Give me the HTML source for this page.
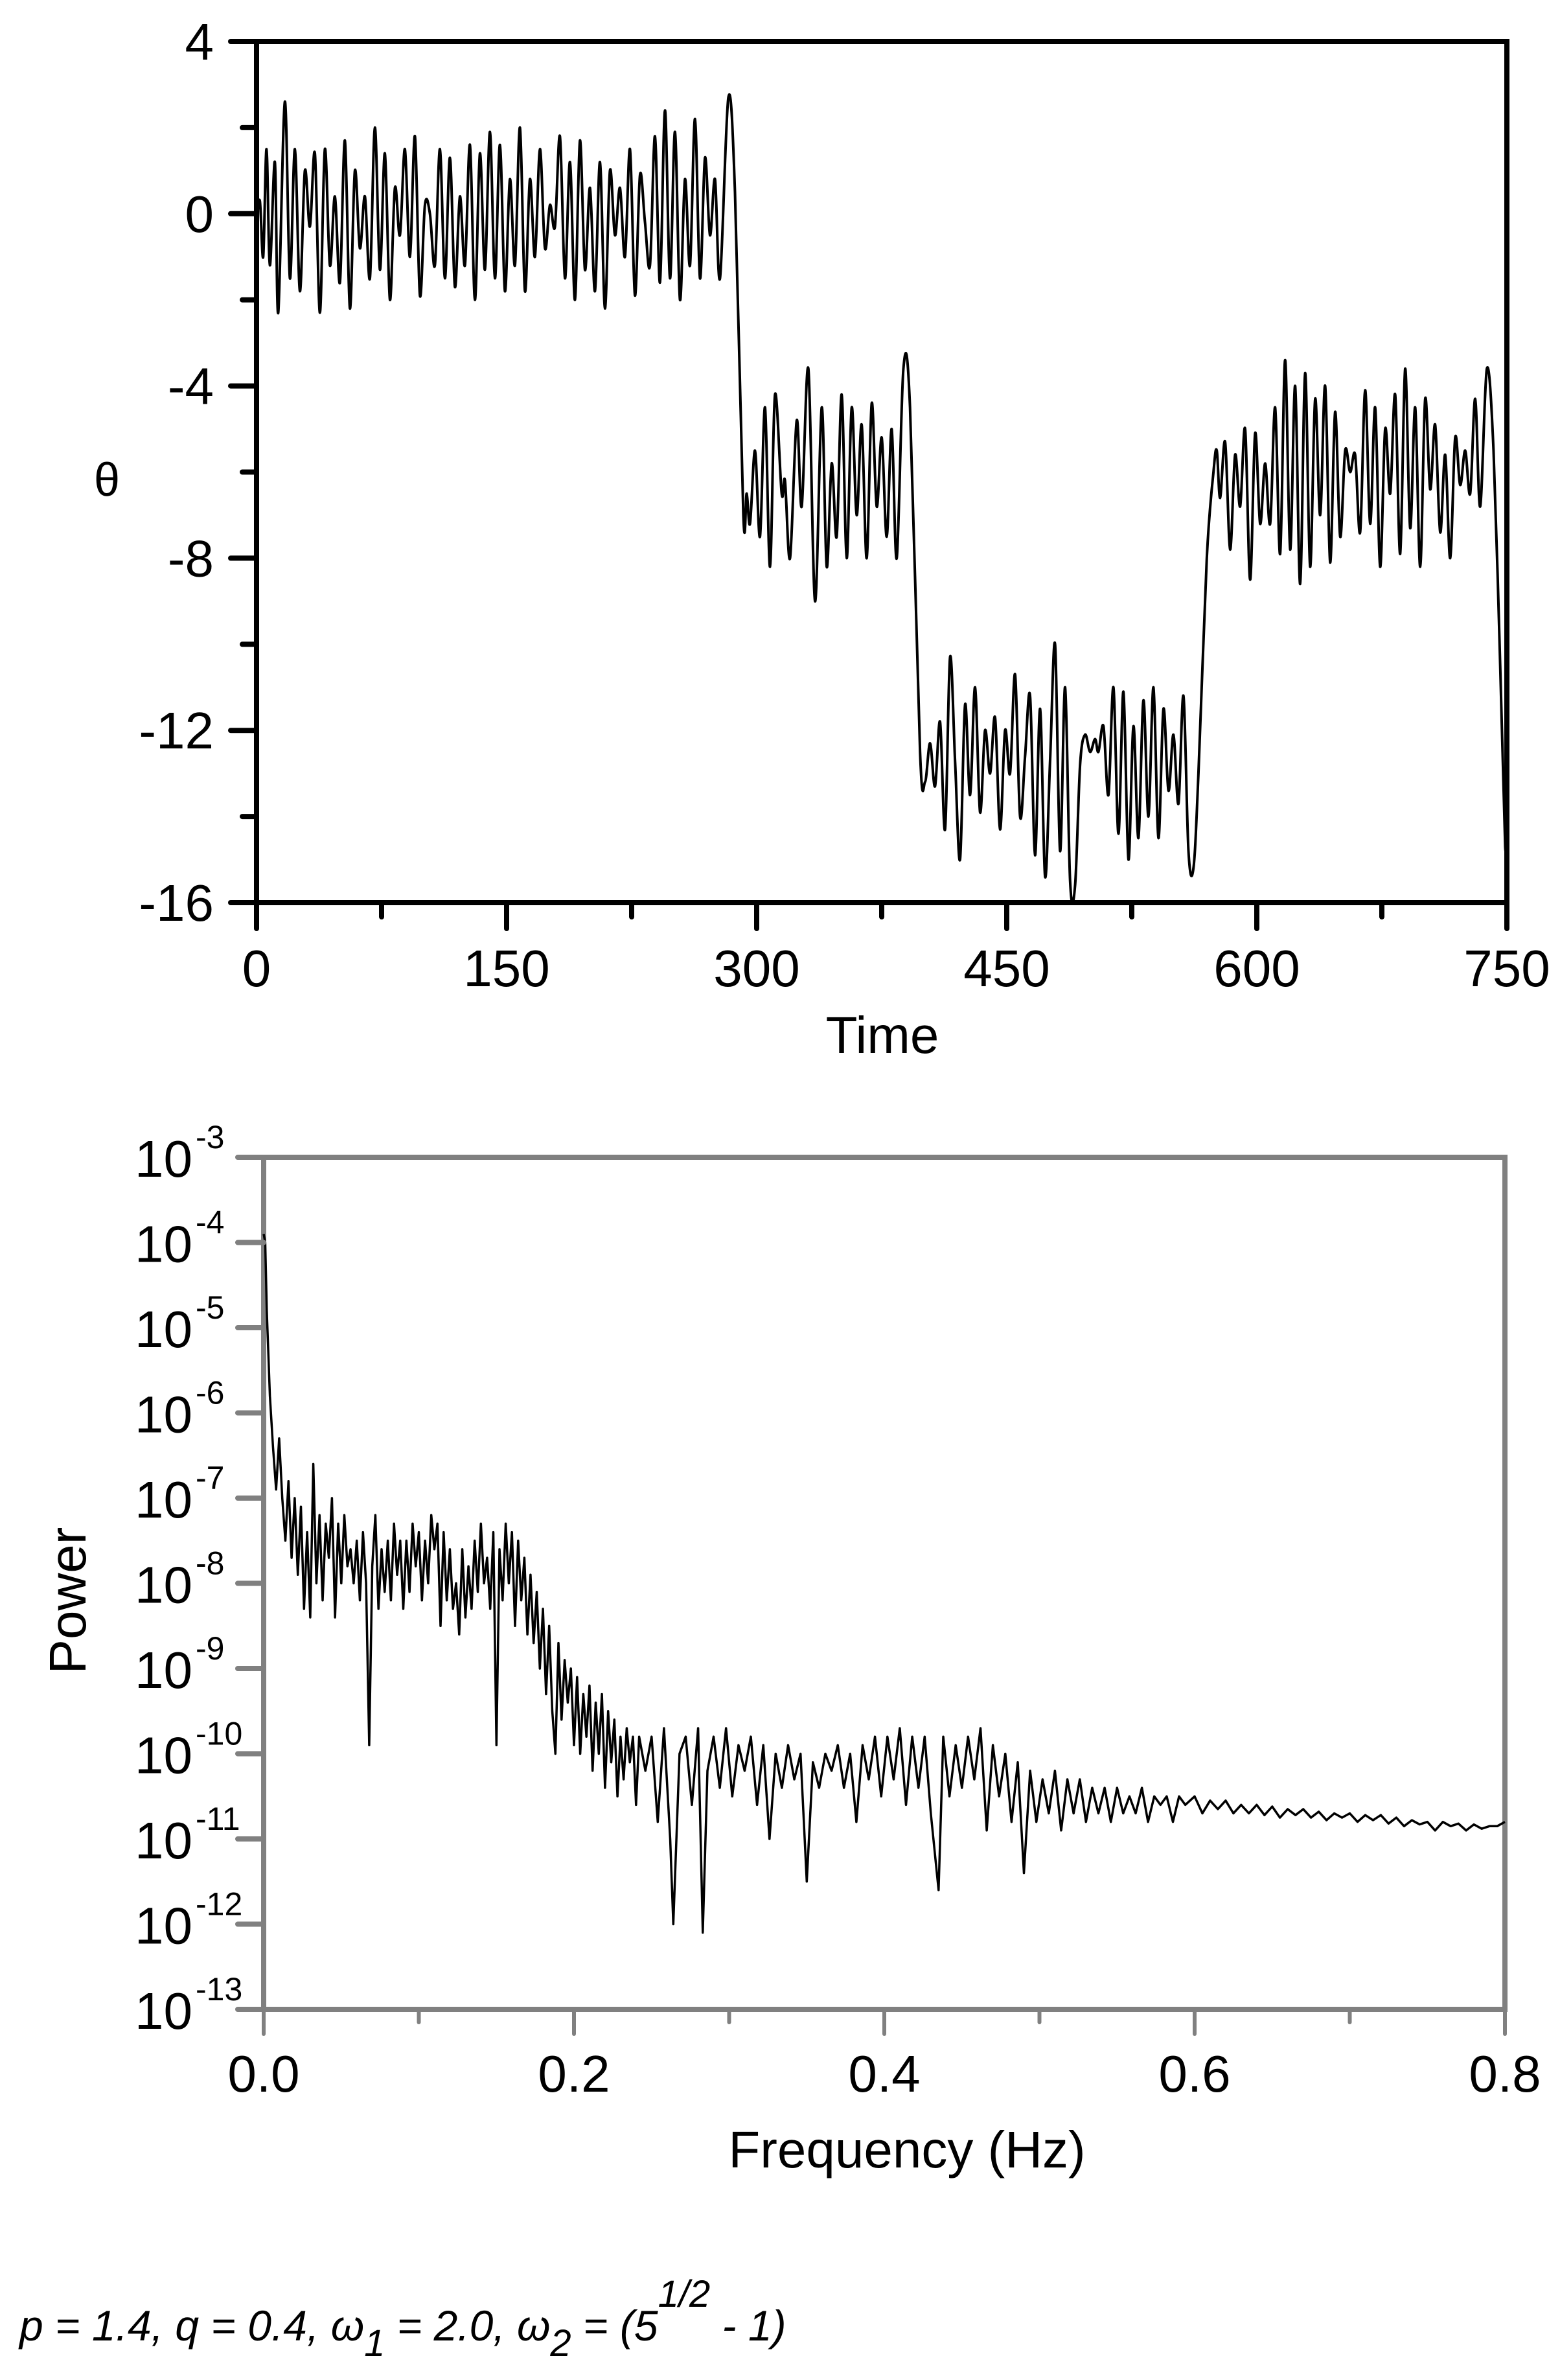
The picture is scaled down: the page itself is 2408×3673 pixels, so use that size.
<!DOCTYPE html>
<html><head><meta charset="utf-8">
<style>
html,body{margin:0;padding:0;background:#fff;}
svg{display:block;}
text{font-family:"Liberation Sans",sans-serif;fill:#000;}
</style></head>
<body>
<svg id="fig" width="2408" height="3673" viewBox="0 0 2408 3673" xmlns="http://www.w3.org/2000/svg">
<rect width="2408" height="3673" fill="#fff"/>
<g id="top"></g>
<g id="bot"></g>
<text x="30" y="3612" font-size="66" font-style="italic">p = 1.4, q = 0.4, ω<tspan dy="24" font-size="58">1</tspan><tspan dy="-24"> = 2.0, ω</tspan><tspan dy="24" font-size="58">2</tspan><tspan dy="-24"> = (5</tspan><tspan dy="-52" font-size="58">1/2</tspan><tspan dy="52"> - 1)</tspan></text>
</svg>
<script>
// ---- top chart data (time, theta) ----
const thetaTime = [0,2,4,6,8,11,13,17,20,23,26,29,32,35,38,41,44,47,50,53,56,59,62,65,68,71,74,77,80,83,86,89,92,95,98,101,104,107,110,113,116,119,122,125,128,131,134,137,140,143,146,149,152,155,158,161,164,167,170,173,176,179,182,185,188,191,194,197,200,203,206,209,212,215,218,221,224,227,230,233,236,239,242,245,248,251,254,257,260,263,266,269,272,275,278,283,287,
292,294,296,299,302,305,308,311,315,317,320,324,327,331,335,339,342,345,348,351,354,357,360,363,366,369,372,375,378,381,384,388,392,398,
401,404,407,410,413,416,419,422,425,428,431,434,437,440,443,446,449,452,455,458,461,464,467,470,473,476,479,482,485,488,491,494,497,500,503,505,508,511,514,517,520,523,526,529,532,535,538,541,544,547,550,553,556,559,562,565,570,
574,576,578,581,584,587,590,593,596,599,602,605,608,611,614,617,620,623,626,629,632,635,638,641,644,647,650,653,656,659,662,665,668,671,674,677,680,683,686,689,692,695,698,701,704,707,710,713,716,719,722,725,728,731,734,738,742,746,749,750];
const thetaValues = [-0.2,0.3,-1,1.5,-1.2,1.2,-2.3,2.6,-1.5,1.5,-1.8,1.0,-0.3,1.4,-2.3,1.5,-1.2,0.4,-1.6,1.7,-2.2,1.0,-0.8,0.4,-1.5,2.0,-1.3,1.4,-2.0,0.6,-0.5,1.5,-1.0,1.8,-1.9,0.2,0.0,-1.2,1.5,-1.5,1.3,-1.7,0.4,-1.2,1.6,-2.0,1.4,-1.3,1.9,-1.5,1.6,-1.8,0.8,-1.2,2.0,-1.8,0.8,-1.0,1.5,-0.8,0.2,-0.3,1.8,-1.5,1.2,-2.0,1.7,-1.3,0.6,-1.8,1.2,-2.2,1.0,-0.5,0.6,-1.0,1.5,-1.9,0.9,-0.2,-1.2,1.8,-1.6,2.4,-1.5,1.9,-2.0,0.8,-1.2,2.2,-1.5,1.3,-0.5,0.8,-1.5,2.7,0.5,
-7,-6.5,-7.2,-5.5,-7.5,-4.5,-8.2,-4.2,-6.5,-6.2,-8.0,-4.8,-6.8,-3.6,-9.0,-4.5,-8.2,-5.8,-7.5,-4.2,-8.0,-4.5,-7.0,-4.9,-8.0,-4.4,-6.8,-5.2,-7.5,-5.0,-8.0,-3.6,-4.5,-12.5,
-13.2,-12.3,-13.3,-11.8,-14.3,-10.3,-12.7,-15.0,-11.4,-13.5,-11.0,-13.9,-12.0,-13.0,-11.7,-14.3,-12.0,-13.0,-10.7,-14.0,-12.6,-11.2,-14.9,-11.5,-15.4,-12.7,-10.0,-14.8,-11.0,-15.5,-15.6,-12.8,-12.1,-12.5,-12.2,-12.5,-11.9,-13.5,-11.0,-14.4,-11.1,-15.0,-11.9,-14.5,-11.3,-14.0,-11.0,-14.5,-11.5,-13.4,-12.1,-13.7,-11.2,-14.8,-15.2,-13.0,-8.0,
-6.0,-5.5,-6.6,-5.3,-7.8,-5.6,-6.8,-5.0,-8.5,-5.1,-7.2,-5.8,-7.2,-4.5,-7.9,-3.4,-7.8,-4.0,-8.6,-3.7,-8.2,-4.3,-7.0,-4.0,-8.1,-4.6,-7.5,-5.5,-6.0,-5.6,-7.4,-4.1,-7.2,-4.5,-8.2,-5.0,-6.5,-4.2,-7.9,-3.6,-7.3,-4.5,-8.2,-4.3,-6.4,-4.9,-7.4,-5.6,-8.0,-5.2,-6.3,-5.5,-6.5,-4.3,-6.8,-3.6,-5.5,-10.5,-14.7,-13.5];
const timeTicks = [0,150,300,450,600,750];
const thetaTicks = [4,0,-4,-8,-12,-16];

// ---- bottom chart data (frequency, log10 power) ----
const freqValues = [0.000,0.001,0.002,0.004,0.006,0.008,0.010,0.012,0.014,0.016,0.018,0.020,0.022,0.024,0.026,0.028,0.030,0.032,0.034,0.036,0.038,0.040,0.042,0.044,0.046,0.048,0.050,0.052,0.054,0.056,0.058,0.060,0.062,0.064,0.066,0.068,0.070,0.072,0.074,0.076,0.078,0.080,0.082,0.084,0.086,0.088,0.090,0.092,0.094,0.096,0.098,0.100,0.102,0.104,0.106,0.108,0.110,0.112,0.114,0.116,0.118,0.120,0.122,0.124,0.126,0.128,0.130,0.132,0.134,0.136,0.138,0.140,0.142,0.144,0.146,0.148,0.150,0.152,0.154,0.156,0.158,0.160,0.162,0.164,0.166,0.168,0.170,0.172,0.174,0.176,0.178,0.180,0.182,0.184,0.186,0.188,0.190,0.192,0.194,0.196,0.198,0.200,0.202,0.204,0.206,0.208,0.210,0.212,0.214,0.216,0.218,0.220,0.222,0.224,0.226,0.228,0.230,0.232,0.234,0.236,0.238,0.240,0.242,0.246,0.250,0.254,0.258,0.262,0.264,0.268,0.272,0.276,0.280,0.283,0.286,0.290,0.294,0.298,0.302,0.306,0.310,0.314,0.318,0.322,0.326,0.330,0.334,0.338,0.342,0.346,0.350,0.354,0.358,0.362,0.366,0.370,0.374,0.378,0.382,0.386,0.390,0.394,0.398,0.402,0.406,0.410,0.414,0.418,0.422,0.426,0.430,0.435,0.438,0.442,0.446,0.450,0.454,0.458,0.462,0.466,0.470,0.474,0.478,0.482,0.486,0.490,0.494,0.498,0.502,0.506,0.510,0.514,0.518,0.522,0.526,0.530,0.534,0.538,0.542,0.546,0.550,0.554,0.558,0.562,0.566,0.570,0.574,0.578,0.582,0.586,0.590,0.594,0.600,0.605,0.610,0.615,0.620,0.625,0.630,0.635,0.640,0.645,0.650,0.655,0.660,0.665,0.670,0.675,0.680,0.685,0.690,0.695,0.700,0.705,0.710,0.715,0.720,0.725,0.730,0.735,0.740,0.745,0.750,0.755,0.760,0.765,0.770,0.775,0.780,0.785,0.790,0.795,0.800];
const powerExp = [-3.9,-4.0,-4.8,-5.8,-6.4,-6.9,-6.3,-7.0,-7.5,-6.8,-7.7,-7.0,-7.9,-7.1,-8.3,-7.4,-8.4,-6.6,-8.0,-7.2,-8.2,-7.3,-7.7,-7.0,-8.4,-7.3,-8.0,-7.2,-7.8,-7.6,-8.0,-7.5,-8.2,-7.4,-8.0,-9.9,-7.8,-7.2,-8.3,-7.6,-8.1,-7.5,-8.2,-7.3,-7.9,-7.5,-8.3,-7.5,-8.1,-7.3,-7.8,-7.4,-8.2,-7.5,-8.0,-7.2,-7.6,-7.3,-8.5,-7.4,-8.2,-7.6,-8.3,-8.0,-8.6,-7.6,-8.4,-7.8,-8.3,-7.5,-8.1,-7.3,-8.0,-7.7,-8.3,-7.4,-9.9,-7.6,-8.2,-7.3,-8.0,-7.4,-8.5,-7.5,-8.2,-7.7,-8.6,-7.9,-8.7,-8.1,-9.0,-8.3,-9.3,-8.5,-9.5,-10.0,-8.7,-9.6,-8.9,-9.4,-9.0,-9.9,-9.1,-10.0,-9.3,-9.8,-9.2,-10.2,-9.4,-10.0,-9.3,-10.4,-9.5,-10.1,-9.6,-10.5,-9.8,-10.3,-9.7,-10.1,-9.8,-10.6,-9.8,-10.2,-9.8,-10.8,-9.7,-11.0,-12.0,-10.0,-9.8,-10.6,-9.7,-12.1,-10.2,-9.8,-10.4,-9.7,-10.5,-9.9,-10.2,-9.8,-10.6,-9.9,-11.0,-10.0,-10.4,-9.9,-10.3,-10.0,-11.5,-10.1,-10.4,-10.0,-10.2,-9.9,-10.4,-10.0,-10.8,-9.9,-10.3,-9.8,-10.5,-9.8,-10.3,-9.7,-10.6,-9.8,-10.4,-9.8,-10.7,-11.6,-9.8,-10.5,-9.9,-10.4,-9.8,-10.3,-9.7,-10.9,-9.9,-10.5,-10.0,-10.8,-10.1,-11.4,-10.2,-10.8,-10.3,-10.7,-10.2,-10.9,-10.3,-10.7,-10.3,-10.8,-10.4,-10.7,-10.4,-10.8,-10.4,-10.7,-10.5,-10.7,-10.4,-10.8,-10.5,-10.6,-10.5,-10.8,-10.5,-10.6,-10.5,-10.7,-10.55,-10.65,-10.55,-10.7,-10.6,-10.7,-10.6,-10.72,-10.62,-10.75,-10.65,-10.72,-10.65,-10.75,-10.68,-10.78,-10.7,-10.75,-10.7,-10.8,-10.72,-10.78,-10.72,-10.82,-10.75,-10.85,-10.78,-10.83,-10.8,-10.9,-10.8,-10.85,-10.82,-10.9,-10.83,-10.88,-10.85,-10.85,-10.8];
const freqTicks = [0.0,0.2,0.4,0.6,0.8];
const freqTickLabels = ["0.0","0.2","0.4","0.6","0.8"];
const powerTickExp = [-3,-4,-5,-6,-7,-8,-9,-10,-11,-12,-13];

const NS="http://www.w3.org/2000/svg";
function mk(tag,attrs,parent,txt){const e=document.createElementNS(NS,tag);for(const k in attrs)e.setAttribute(k,attrs[k]);if(txt!==undefined)e.textContent=txt;parent.appendChild(e);return e;}

// ===== TOP CHART =====
(function(){
  const g=document.getElementById('top');
  const L=396,R=2326,T=64,B=1393;
  const xS=t=>L+(t-0)/(750-0)*(R-L);
  const yS=v=>T+(4-v)/(4-(-16))*(B-T);
  const P=thetaTime.map((t,i)=>[xS(t),yS(thetaValues[i])]);
  let d='M'+P[0][0].toFixed(1)+' '+P[0][1].toFixed(1);
  for(let i=0;i<P.length-1;i++){
    const p0=P[Math.max(0,i-1)],p1=P[i],p2=P[i+1],p3=P[Math.min(P.length-1,i+2)];
    const c1x=p1[0]+(p2[0]-p0[0])/6,c1y=p1[1]+(p2[1]-p0[1])/6;
    const c2x=p2[0]-(p3[0]-p1[0])/6,c2y=p2[1]-(p3[1]-p1[1])/6;
    d+='C'+c1x.toFixed(1)+' '+c1y.toFixed(1)+' '+c2x.toFixed(1)+' '+c2y.toFixed(1)+' '+p2[0].toFixed(1)+' '+p2[1].toFixed(1);
  }
  const line=mk('path',{d:d,fill:'none',stroke:'#000','stroke-width':4,'stroke-linejoin':'round'},g);
  
  
  const fr=mk('rect',{x:L,y:T,width:R-L,height:B-T,fill:'none',stroke:'#000','stroke-width':8},g);
  
  
  for(let v=4;v>=-16;v-=2){
    const major=(v%4===0);
    const tk=mk('line',{x1:L-(major?40:22),x2:L,y1:yS(v),y2:yS(v),stroke:'#000','stroke-width':8,'stroke-linecap':'round'},g);
    
    
  }
  thetaTicks.forEach(v=>{
    const t=mk('text',{x:330,y:yS(v)+28,'font-size':80,'text-anchor':'end'},g,String(v));
    
    
  });
  for(let t=0;t<=750;t+=75){
    const major=(t%150===0);
    const tk=mk('line',{x1:xS(t),x2:xS(t),y1:B,y2:B+(major?40:22),stroke:'#000','stroke-width':8,'stroke-linecap':'round'},g);
    
    
  }
  timeTicks.forEach(t=>{
    const e=mk('text',{x:xS(t),y:1522,'font-size':80,'text-anchor':'middle'},g,String(t));
    
    
  });
  const xt=mk('text',{x:1362,y:1625,'font-size':80,'text-anchor':'middle'},g,'Time');
  
  
  const yt=mk('text',{x:165,y:765,'font-size':72,'text-anchor':'middle','font-family':'Liberation Serif, serif'},g,'θ');
  
  
})();

// ===== BOTTOM CHART =====
(function(){
  const g=document.getElementById('bot');
  const L=407,R=2323,T=1786,B=3101;
  const xS=f=>L+(f-0)/(0.8-0)*(R-L);
  const yS=e=>T+(-3-e)/(-3-(-13))*(B-T);
  const gray='#808080';
  const fr=mk('rect',{x:L,y:T,width:R-L,height:B-T,fill:'none',stroke:gray,'stroke-width':8},g);
  
  
  let d='';
  for(let i=0;i<freqValues.length;i++){d+=(i?'L':'M')+xS(freqValues[i]).toFixed(1)+' '+yS(powerExp[i]).toFixed(1);}
  const line=mk('path',{d:d,fill:'none',stroke:'#000','stroke-width':3.5,'stroke-linejoin':'round'},g);
  
  
  powerTickExp.forEach(e=>{
    const tk=mk('line',{x1:L-40,x2:L,y1:yS(e),y2:yS(e),stroke:gray,'stroke-width':8,'stroke-linecap':'round'},g);
    
    
    const t=mk('text',{x:297,y:yS(e)+30,'font-size':80,'text-anchor':'end'},g,'10');
    
    
    const s=mk('text',{x:302,y:yS(e)-14,'font-size':50,'text-anchor':'start'},g,String(e));
    
    
  });
  for(let i=0;i<=8;i++){
    const f=i*0.1, major=(i%2===0);
    const tk=mk('line',{x1:xS(f),x2:xS(f),y1:B,y2:B+(major?38:20),stroke:gray,'stroke-width':6,'stroke-linecap':'round'},g);
    
    
  }
  freqTicks.forEach((f,i)=>{
    const e=mk('text',{x:xS(f),y:3228,'font-size':80,'text-anchor':'middle'},g,freqTickLabels[i]);
    
    
  });
  const xt=mk('text',{x:1400,y:3345,'font-size':80,'text-anchor':'middle'},g,'Frequency (Hz)');
  
  
  const yt=mk('text',{x:0,y:0,'font-size':80,'text-anchor':'middle',transform:'translate(132,2470) rotate(-90)'},g,'Power');
  
  
})();
</script>
</body></html>
